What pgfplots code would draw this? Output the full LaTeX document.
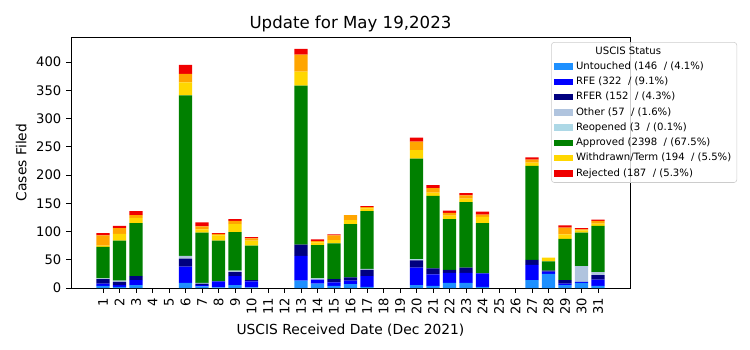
\documentclass[border=0pt]{standalone}
\usepackage{fontspec}
\setmainfont{DejaVu Sans}
\usepackage{pgfplots}
\usepackage{pgfplotstable}
\pgfplotsset{compat=1.18}

\definecolor{cU}{HTML}{1E90FF}
\definecolor{cRFE}{HTML}{0000FF}
\definecolor{cRFER}{HTML}{000080}
\definecolor{cOth}{HTML}{B0C4DE}
\definecolor{cReo}{HTML}{ADD8E6}
\definecolor{cApp}{HTML}{008000}
\definecolor{cWd}{HTML}{FFD700}
\definecolor{cOr}{HTML}{FFA500}
\definecolor{cRej}{HTML}{F00000}

\pgfplotstableread{
day U RFE RFER Oth Reo App Wd Or Rej
1 4 4 8 1 0 56 2 18 4
2 2 3 6 2 0 71 12 10 4
3 5 9 7 0 0 94 9 5 7
6 9 29 14 5 0 284 23 15 16
7 3 2 3 0 1 89 6 5 7
8 1 11 0 0 0 72 9 3 1
9 5 16 7 3 0 68 14 6 3
10 1 11 2 0 0 61 9 4 2
13 13 44 20 0 0 281 25 30 10
14 8 7 0 1 1 59 5 2 3
15 4 6 6 0 0 63 6 8 2
16 7 6 6 0 0 94 7 9 0
17 2 19 11 2 0 102 5 2 2
20 5 31 13 1 1 178 15 15 7
21 4 20 11 0 0 128 6 8 5
22 9 18 5 0 0 90 6 5 4
23 9 18 9 0 0 116 6 6 4
24 2 24 0 0 0 89 11 4 5
27 14 27 9 0 0 166 6 5 4
28 25 4 2 0 0 16 7 0 0
29 5 3 6 0 0 73 8 12 4
30 9 2 0 28 0 59 4 2 2
31 4 11 8 5 0 82 4 5 2
}\data

\pgfplotsset{
  seg/.style={fill=#1, draw=none,
    legend image code/.code={\fill[#1, fill opacity=1, sharp corners] (0bp,-2.3bp) rectangle (13.7bp,2.3bp);}},
}

\begin{document}
\begin{tikzpicture}
\path[use as bounding box] (0,0) rectangle (540bp,252bp);
\begin{axis}[
  at={(51.1bp,44.6bp)}, anchor=south west,
  scale only axis, width=402.5bp, height=180.7bp,
  ybar stacked, bar width=0.8,
  xmin=-0.94, xmax=32.94, ymin=0, ymax=444,
  xtick={1,...,31}, ytick={0,50,...,400},
  tick align=outside, tick pos=left, major tick length=3.5pt,
  tick style={black, line width=0.6pt},
  axis line style={line width=0.6pt},
  xticklabel style={rotate=90, anchor=east, font=\fontsize{9.5}{11}\selectfont},
  yticklabel style={font=\fontsize{9.5}{11}\selectfont},
  /pgf/number format/assume math mode=true,
  title={Update for May 19,2023},
  title style={font=\fontsize{12}{14}\selectfont, yshift=-6pt},
  xlabel={USCIS Received Date (Dec 2021)},
  ylabel={Cases Filed},
  label style={font=\fontsize{10}{12}\selectfont},
  legend style={at={(rel axis cs:0.859,0.98)}, anchor=north west,
    font=\fontsize{7.3}{8.2}\selectfont, draw=black!20, rounded corners=2pt,
    fill=white, fill opacity=0.8, text opacity=1,
    row sep=0pt, inner xsep=2pt, inner ysep=1pt},
  legend cell align=left,
]
\addlegendimage{empty legend}
\addlegendentry{\hspace{14bp}USCIS Status}
\addplot[seg=cU] table[x=day, y=U] {\data};
\addlegendentry{Untouched (146~~/ (4.1\%)}
\addplot[seg=cRFE] table[x=day, y=RFE] {\data};
\addlegendentry{RFE (322~~/ (9.1\%)}
\addplot[seg=cRFER] table[x=day, y=RFER] {\data};
\addlegendentry{RFER (152~~/ (4.3\%)}
\addplot[seg=cOth] table[x=day, y=Oth] {\data};
\addlegendentry{Other (57~~/ (1.6\%)}
\addplot[seg=cReo] table[x=day, y=Reo] {\data};
\addlegendentry{Reopened (3~~/ (0.1\%)}
\addplot[seg=cApp] table[x=day, y=App] {\data};
\addlegendentry{Approved (2398~~/ (67.5\%)}
\addplot[seg=cWd] table[x=day, y=Wd] {\data};
\addlegendentry{Withdrawn/Term (194~~/ (5.5\%)}
\addplot[seg=cOr, forget plot] table[x=day, y=Or] {\data};
\addplot[seg=cRej] table[x=day, y=Rej] {\data};
\addlegendentry{Rejected (187~~/ (5.3\%)}
\end{axis}
\end{tikzpicture}
\end{document}
